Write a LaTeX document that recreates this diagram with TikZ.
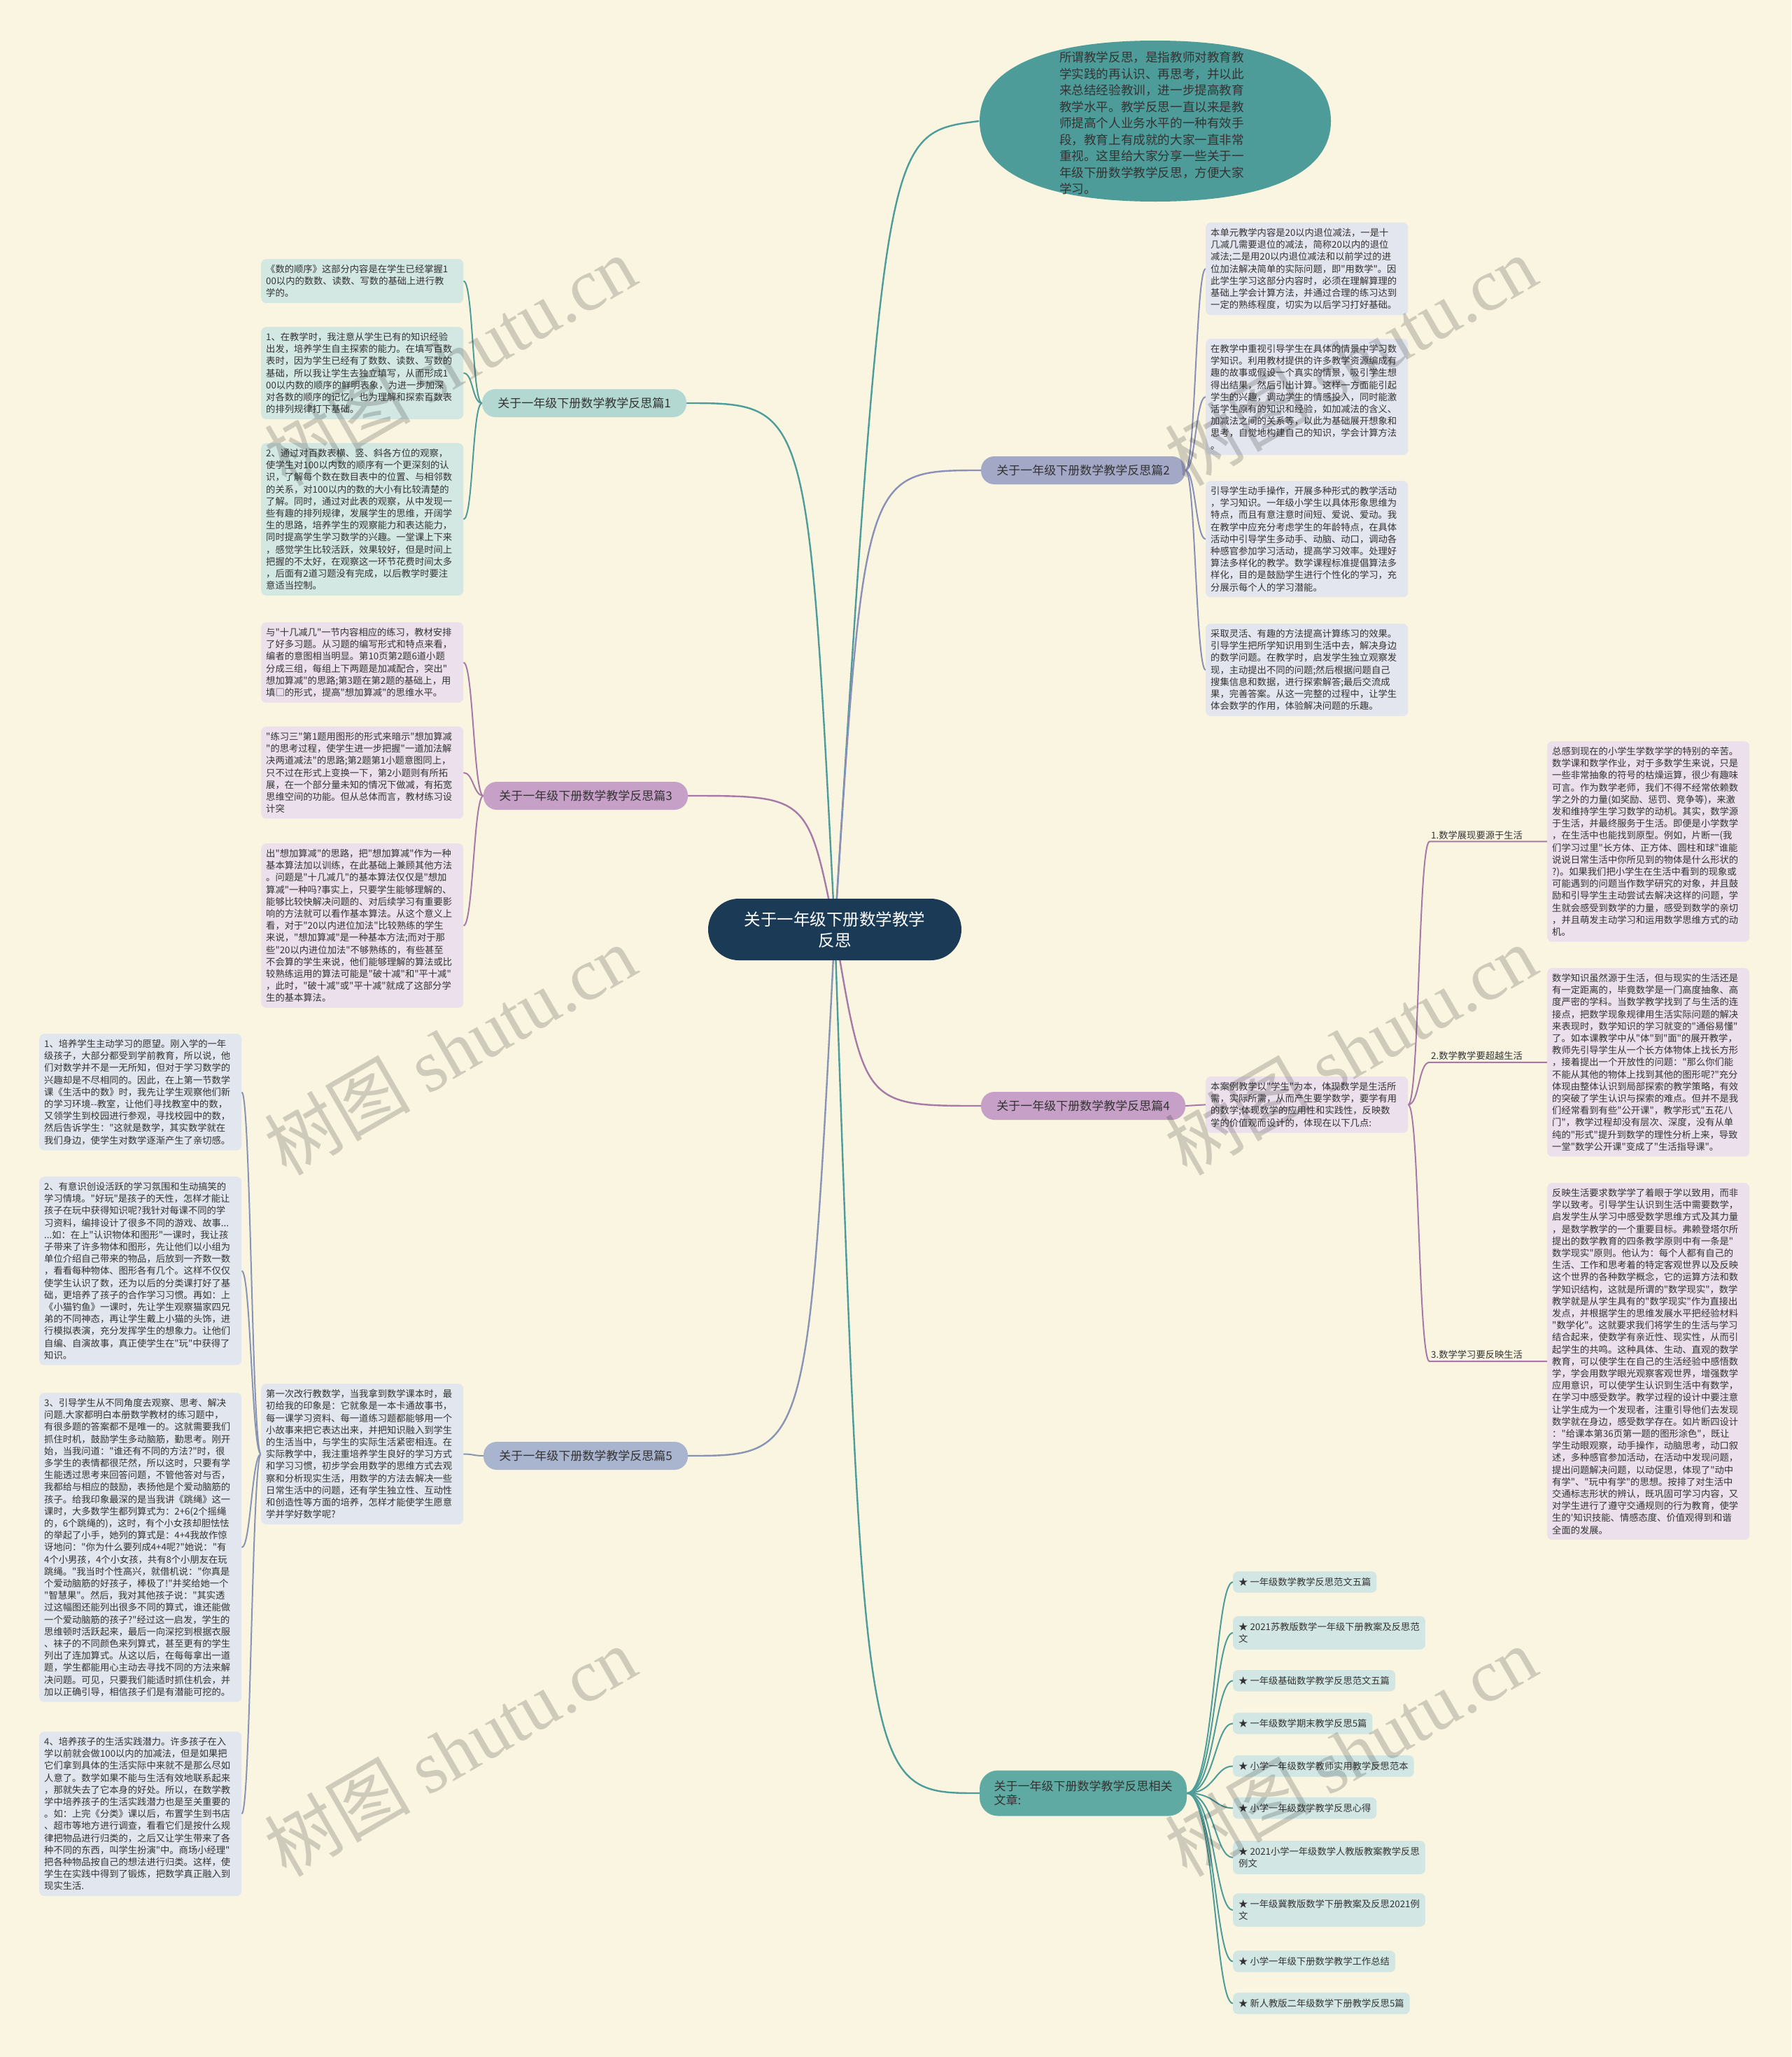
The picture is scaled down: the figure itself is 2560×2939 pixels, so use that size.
\documentclass[tikz,border=0pt]{standalone}
\usepackage{fontspec}
\setmainfont{Noto Sans CJK SC}[Ligatures=TeXOff]
\newfontfamily\wmserif{Liberation Serif}[Ligatures=TeXOff]
\usetikzlibrary{calc,shapes.geometric}
\definecolor{bgc}{HTML}{F9F5E1}
\definecolor{navy}{HTML}{1B3A55}
\definecolor{tealc}{HTML}{4E9C99}
\definecolor{txt}{HTML}{333333}
\definecolor{p1fill}{HTML}{B3D8D1}
\definecolor{p2fill}{HTML}{A3A8C7}
\definecolor{p3fill}{HTML}{C7A0C8}
\definecolor{p5fill}{HTML}{A9B4CE}
\definecolor{relfill}{HTML}{5FAAA3}
\definecolor{b1fill}{HTML}{D3E8E3}
\definecolor{b2fill}{HTML}{E3E5EF}
\definecolor{b3fill}{HTML}{EBE0EC}
\definecolor{b5fill}{HTML}{E2E6EF}
\definecolor{rfill}{HTML}{D2E7E4}
\definecolor{cc2}{HTML}{8A8FB8}
\definecolor{cc3}{HTML}{A679A7}
\definecolor{cc5}{HTML}{8794B4}
\pgfdeclarelayer{bg}
\pgfsetlayers{bg,main}
\begin{document}
\begin{tikzpicture}[x=1pt,y=-1pt,
  tbox/.style={rounded corners=7pt, inner xsep=7pt, inner ysep=8pt, text width=275pt, align=left,
    font=\fontsize{13.3}{17.2}\selectfont, text=txt, anchor=north west},
  pill/.style={rounded corners=19pt, minimum width=292pt, minimum height=40pt, inner xsep=12pt,
    font=\fontsize{17}{20}\selectfont, text=txt, anchor=center},
  ritem/.style={rounded corners=7pt, inner xsep=8pt, inner ysep=9pt, align=left,
    font=\fontsize{13.3}{17.2}\selectfont, text=txt, fill=rfill, anchor=north west},
  lbl/.style={anchor=south west, inner xsep=2pt, inner ysep=3pt, font=\fontsize{13.3}{16}\selectfont, text=txt},
  mainln/.style={line width=2.4pt},
  kid/.style={line width=2pt},
  wm/.style={rotate=30, font=\fontsize{105}{105}\selectfont, text=black, opacity=0.17}
]
\useasboundingbox (0,0) rectangle (2560,2939);
\begin{pgfonlayer}{bg}
\fill[bgc] (0,0) rectangle (2560,2939);
\end{pgfonlayer}

% center
\node[fill=navy, rounded corners=44pt, minimum width=362pt, minimum height=88pt, align=center,
  text=white, font=\fontsize{23.5}{30}\selectfont] (cen) at (1193,1328) {关于一年级下册数学教学\\反思};
\coordinate (c0) at (cen.center);

% top rounded shape
\node[ellipse, minimum width=503pt, minimum height=229pt, inner sep=0pt] (ell) at (1651,173) {};
\fill[tealc] (1400,173) .. controls (1400,99) and (1490,58) .. (1651,58)
  .. controls (1812,58) and (1902,99) .. (1902,173)
  .. controls (1902,247) and (1812,288) .. (1651,288)
  .. controls (1490,288) and (1400,247) .. (1400,173) -- cycle;
\node[align=left, text=txt, font=\fontsize{17.6}{23.5}\selectfont] (ellt) at (1646,176) {所谓教学反思，是指教师对教育教\\
学实践的再认识、再思考，并以此\\
来总结经验教训，进一步提高教育\\
教学水平。教学反思一直以来是教\\
师提高个人业务水平的一种有效手\\
段，教育上有成就的大家一直非常\\
重视。这里给大家分享一些关于一\\
年级下册数学教学反思，方便大家\\
学习。};

% branch pills
\node[pill, fill=p1fill] (p1) at (835,576) {关于一年级下册数学教学反思篇1};
\node[pill, fill=p2fill] (p2) at (1548,672) {关于一年级下册数学教学反思篇2};
\node[pill, fill=p3fill] (p3) at (837,1137) {关于一年级下册数学教学反思篇3};
\node[pill, fill=p3fill] (p4) at (1548,1580) {关于一年级下册数学教学反思篇4};
\node[pill, fill=p5fill] (p5) at (837,2080) {关于一年级下册数学教学反思篇5};
\node[pill, fill=relfill, minimum width=296pt, minimum height=65pt, rounded corners=26pt, align=left, inner xsep=14pt] (p6) at (1548,2562) {关于一年级下册数学教学反思相关\\文章:};

% branch 1 boxes
\node[tbox, fill=b1fill] (b11) at (373,370) {《数的顺序》这部分内容是在学生已经掌握1\\
00以内的数数、读数、写数的基础上进行教\\
学的。};
\node[tbox, fill=b1fill] (b12) at (373,467) {1、在教学时，我注意从学生已有的知识经验\\
出发，培养学生自主探索的能力。在填写百数\\
表时，因为学生已经有了数数、读数、写数的\\
基础，所以我让学生去独立填写，从而形成1\\
00以内数的顺序的鲜明表象，为进一步加深\\
对各数的顺序的记忆，也为理解和探索百数表\\
的排列规律打下基础。};
\node[tbox, fill=b1fill] (b13) at (373,633) {2、通过对百数表横、竖、斜各方位的观察，\\
使学生对100以内数的顺序有一个更深刻的认\\
识，了解每个数在数目表中的位置、与相邻数\\
的关系，对100以内的数的大小有比较清楚的\\
了解。同时，通过对此表的观察，从中发现一\\
些有趣的排列规律，发展学生的思维，开阔学\\
生的思路，培养学生的观察能力和表达能力，\\
同时提高学生学习数学的兴趣。一堂课上下来\\
，感觉学生比较活跃，效果较好，但是时间上\\
把握的不太好，在观察这一环节花费时间太多\\
，后面有2道习题没有完成，以后教学时要注\\
意适当控制。};

% branch 2 boxes
\node[tbox, fill=b2fill] (b21) at (1723,318) {本单元教学内容是20以内退位减法，一是十\\
几减几需要退位的减法，简称20以内的退位\\
减法;二是用20以内退位减法和以前学过的进\\
位加法解决简单的实际问题，即"用数学"。因\\
此学生学习这部分内容时，必须在理解算理的\\
基础上学会计算方法，并通过合理的练习达到\\
一定的熟练程度，切实为以后学习打好基础。};
\node[tbox, fill=b2fill] (b22) at (1723,484) {在教学中重视引导学生在具体的情景中学习数\\
学知识。利用教材提供的许多教学资源编成有\\
趣的故事或假设一个真实的情景，吸引学生想\\
得出结果，然后引出计算。这样一方面能引起\\
学生的兴趣，调动学生的情感投入，同时能激\\
活学生原有的知识和经验，如加减法的含义、\\
加减法之间的关系等，以此为基础展开想象和\\
思考，自觉地构建自己的知识，学会计算方法\\
。};
\node[tbox, fill=b2fill] (b23) at (1723,687) {引导学生动手操作，开展多种形式的教学活动\\
，学习知识。一年级小学生以具体形象思维为\\
特点，而且有意注意时间短、爱说、爱动。我\\
在教学中应充分考虑学生的年龄特点，在具体\\
活动中引导学生多动手、动脑、动口，调动各\\
种感官参加学习活动，提高学习效率。处理好\\
算法多样化的教学。数学课程标准提倡算法多\\
样化，目的是鼓励学生进行个性化的学习，充\\
分展示每个人的学习潜能。};
\node[tbox, fill=b2fill] (b24) at (1723,891) {采取灵活、有趣的方法提高计算练习的效果。\\
引导学生把所学知识用到生活中去，解决身边\\
的数学问题。在教学时，启发学生独立观察发\\
现，主动提出不同的问题;然后根据问题自己\\
搜集信息和数据，进行探索解答;最后交流成\\
果，完善答案。从这一完整的过程中，让学生\\
体会数学的作用，体验解决问题的乐趣。};

% branch 3 boxes
\node[tbox, fill=b3fill] (b31) at (373,889) {与"十几减几"一节内容相应的练习，教材安排\\
了好多习题。从习题的编写形式和特点来看，\\
编者的意图相当明显。第10页第2题6道小题\\
分成三组，每组上下两题是加减配合，突出"\\
想加算减"的思路;第3题在第2题的基础上，用\\
填□的形式，提高"想加算减"的思维水平。};
\node[tbox, fill=b3fill] (b32) at (373,1038) {"练习三"第1题用图形的形式来暗示"想加算减\\
"的思考过程，使学生进一步把握"一道加法解\\
决两道减法"的思路;第2题第1小题意图同上，\\
只不过在形式上变换一下，第2小题则有所拓\\
展，在一个部分量未知的情况下做减，有拓宽\\
思维空间的功能。但从总体而言，教材练习设\\
计突};
\node[tbox, fill=b3fill] (b33) at (373,1205) {出"想加算减"的思路，把"想加算减"作为一种\\
基本算法加以训练，在此基础上兼顾其他方法\\
。问题是"十几减几"的基本算法仅仅是"想加\\
算减"一种吗?事实上，只要学生能够理解的、\\
能够比较快解决问题的、对后续学习有重要影\\
响的方法就可以看作基本算法。从这个意义上\\
看，对于"20以内进位加法"比较熟练的学生\\
来说，"想加算减"是一种基本方法;而对于那\\
些"20以内进位加法"不够熟练的，有些甚至\\
不会算的学生来说，他们能够理解的算法或比\\
较熟练运用的算法可能是"破十减"和"平十减"\\
，此时，"破十减"或"平十减"就成了这部分学\\
生的基本算法。};

% branch 4
\node[tbox, fill=b3fill] (b40) at (1723,1538) {本案例教学以"学生"为本，体现数学是生活所\\
需，实际所需，从而产生要学数学，要学有用\\
的数学;体现数学的应用性和实践性，反映数\\
学的价值观而设计的，体现在以下几点:};
\node[tbox, fill=b3fill] (b41) at (2211,1059) {总感到现在的小学生学数学学的特别的辛苦。\\
数学课和数学作业，对于多数学生来说，只是\\
一些非常抽象的符号的枯燥运算，很少有趣味\\
可言。作为数学老师，我们不得不经常依赖数\\
学之外的力量(如奖励、惩罚、竞争等)，来激\\
发和维持学生学习数学的动机。其实，数学源\\
于生活，并最终服务于生活。即便是小学数学\\
，在生活中也能找到原型。例如，片断一(我\\
们学习过里"长方体、正方体、圆柱和球"谁能\\
说说日常生活中你所见到的物体是什么形状的\\
?)。如果我们把小学生在生活中看到的现象或\\
可能遇到的问题当作数学研究的对象，并且鼓\\
励和引导学生主动尝试去解决这样的问题，学\\
生就会感受到数学的力量，感受到数学的亲切\\
，并且萌发主动学习和运用数学思维方式的动\\
机。};
\node[tbox, fill=b3fill] (b42) at (2211,1383) {数学知识虽然源于生活，但与现实的生活还是\\
有一定距离的，毕竟数学是一门高度抽象、高\\
度严密的学科。当数学教学找到了与生活的连\\
接点，把数学现象规律用生活实际问题的解决\\
来表现时，数学知识的学习就变的"通俗易懂"\\
了。如本课教学中从"体"到"面"的展开教学，\\
教师先引导学生从一个长方体物体上找长方形\\
，接着提出一个开放性的问题："那么你们能\\
不能从其他的物体上找到其他的图形呢?"充分\\
体现由整体认识到局部探索的教学策略，有效\\
的突破了学生认识与探索的难点。但并不是我\\
们经常看到有些"公开课"，教学形式"五花八\\
门"，教学过程却没有层次、深度，没有从单\\
纯的"形式"提升到数学的理性分析上来，导致\\
一堂"数学公开课"变成了"生活指导课"。};
\node[tbox, fill=b3fill] (b43) at (2211,1690) {反映生活要求数学学了着眼于学以致用，而非\\
学以致考。引导学生认识到生活中需要数学，\\
启发学生从学习中感受数学思维方式及其力量\\
，是数学教学的一个重要目标。弗赖登塔尔所\\
提出的数学教育的四条教学原则中有一条是"\\
数学现实"原则。他认为：每个人都有自己的\\
生活、工作和思考着的特定客观世界以及反映\\
这个世界的各种数学概念，它的运算方法和数\\
学知识结构，这就是所谓的"数学现实"，数学\\
教学就是从学生具有的"数学现实"作为直接出\\
发点，并根据学生的思维发展水平把经验材料\\
"数学化"。这就要求我们将学生的生活与学习\\
结合起来，使数学有亲近性、现实性，从而引\\
起学生的共鸣。这种具体、生动、直观的数学\\
教育，可以使学生在自己的生活经验中感悟数\\
学，学会用数学眼光观察客观世界，增强数学\\
应用意识，可以使学生认识到生活中有数学，\\
在学习中感受数学。教学过程的设计中要注意\\
让学生成为一个发现者，注重引导他们去发现\\
数学就在身边，感受数学存在。如片断四设计\\
："给课本第36页第一题的图形涂色"，既让\\
学生动眼观察，动手操作，动脑思考，动口叙\\
述，多种感官参加活动，在活动中发现问题，\\
提出问题解决问题，以动促思，体现了"动中\\
有学"、"玩中有学"的思想。按排了对生活中\\
交通标志形状的辨认，既巩固可学习内容，又\\
对学生进行了遵守交通规则的行为教育，使学\\
生的'知识技能、情感态度、价值观得到和谐\\
全面的发展。};
\coordinate (u1) at ($(b41.west)+(-168,0)$);
\coordinate (u2) at ($(b42.west)+(-168,0)$);
\coordinate (u3) at ($(b43.west)+(-168,0)$);
\node[lbl] (l1) at (u1) {1.数学展现要源于生活};
\node[lbl] (l2) at (u2) {2.数学教学要超越生活};
\node[lbl] (l3) at (u3) {3.数学学习要反映生活};

% branch 5
\node[tbox, fill=b5fill] (b50) at (373,1977) {第一次改行教数学，当我拿到数学课本时，最\\
初给我的印象是：它就象是一本卡通故事书，\\
每一课学习资料、每一道练习题都能够用一个\\
小故事来把它表达出来，并把知识融入到学生\\
的生活当中，与学生的实际生活紧密相连。在\\
实际教学中，我注重培养学生良好的学习方式\\
和学习习惯，初步学会用数学的思维方式去观\\
察和分析现实生活，用数学的方法去解决一些\\
日常生活中的问题，还有学生独立性、互动性\\
和创造性等方面的培养，怎样才能使学生愿意\\
学并学好数学呢?};
\node[tbox, fill=b5fill] (b51) at (56,1477) {1、培养学生主动学习的愿望。刚入学的一年\\
级孩子，大部分都受到学前教育，所以说，他\\
们对数学并不是一无所知，但对于学习数学的\\
兴趣却是不尽相同的。因此，在上第一节数学\\
课《生活中的数》时，我先让学生观察他们新\\
的学习环境-{}-教室，让他们寻找教室中的数，\\
又领学生到校园进行参观，寻找校园中的数，\\
然后告诉学生："这就是数学，其实数学就在\\
我们身边，使学生对数学逐渐产生了亲切感。};
\node[tbox, fill=b5fill] (b52) at (56,1681) {2、有意识创设活跃的学习氛围和生动搞笑的\\
学习情境。"好玩"是孩子的天性，怎样才能让\\
孩子在玩中获得知识呢?我针对每课不同的学\\
习资料，编排设计了很多不同的游戏、故事...\\
...如：在上"认识物体和图形"一课时，我让孩\\
子带来了许多物体和图形，先让他们以小组为\\
单位介绍自己带来的物品，后放到一齐数一数\\
，看看每种物体、图形各有几个。这样不仅仅\\
使学生认识了数，还为以后的分类课打好了基\\
础，更培养了孩子的合作学习习惯。再如：上\\
《小猫钓鱼》一课时，先让学生观察猫家四兄\\
弟的不同神态，再让学生戴上小猫的头饰，进\\
行模拟表演，充分发挥学生的想象力。让他们\\
自编、自演故事，真正使学生在"玩"中获得了\\
知识。};
\node[tbox, fill=b5fill] (b53) at (56,1990) {3、引导学生从不同角度去观察、思考、解决\\
问题.大家都明白本册数学教材的练习题中，\\
有很多题的答案都不是唯一的。这就需要我们\\
抓住时机，鼓励学生多动脑筋，勤思考。刚开\\
始，当我问道："谁还有不同的方法?"时，很\\
多学生的表情都很茫然，所以这时，只要有学\\
生能透过思考来回答问题，不管他答对与否，\\
我都给与相应的鼓励，表扬他是个爱动脑筋的\\
孩子。给我印象最深的是当我讲《跳绳》这一\\
课时，大多数学生都列算式为：2+6(2个摇绳\\
的，6个跳绳的)，这时，有个小女孩却胆怯怯\\
的举起了小手，她列的算式是：4+4我故作惊\\
讶地问："你为什么要列成4+4呢?"她说："有\\
4个小男孩，4个小女孩，共有8个小朋友在玩\\
跳绳。"我当时个性高兴，就借机说："你真是\\
个爱动脑筋的好孩子，棒极了!"并奖给她一个\\
"智慧果"。然后，我对其他孩子说："其实透\\
过这幅图还能列出很多不同的算式，谁还能做\\
一个爱动脑筋的孩子?"经过这一启发，学生的\\
思维顿时活跃起来，最后一向深挖到根据衣服\\
、袜子的不同颜色来列算式，甚至更有的学生\\
列出了连加算式。从这以后，在每每拿出一道\\
题，学生都能用心主动去寻找不同的方法来解\\
决问题。可见，只要我们能适时抓住机会，并\\
加以正确引导，相信孩子们是有潜能可挖的。};
\node[tbox, fill=b5fill] (b54) at (56,2474) {4、培养孩子的生活实践潜力。许多孩子在入\\
学以前就会做100以内的加减法，但是如果把\\
它们拿到具体的生活实际中来就不是那么尽如\\
人意了。数学如果不能与生活有效地联系起来\\
，那就失去了它本身的好处。所以，在数学教\\
学中培养孩子的生活实践潜力也是至关重要的\\
。如：上完《分类》课以后，布置学生到书店\\
、超市等地方进行调查，看看它们是按什么规\\
律把物品进行归类的，之后又让学生带来了各\\
种不同的东西，叫学生扮演"中。商场小经理"\\
把各种物品按自己的想法进行归类。这样，使\\
学生在实践中得到了锻炼，把数学真正融入到\\
现实生活.};

% related items
\node[ritem] (r1) at (1762,2245) {★ 一年级数学教学反思范文五篇};
\node[ritem] (r2) at (1762,2309) {★ 2021苏教版数学一年级下册教案及反思范\\文};
\node[ritem] (r3) at (1762,2386) {★ 一年级基础数学教学反思范文五篇};
\node[ritem] (r4) at (1762,2447) {★ 一年级数学期末教学反思5篇};
\node[ritem] (r5) at (1762,2508) {★ 小学一年级数学教师实用教学反思范本};
\node[ritem] (r6) at (1762,2568) {★ 小学一年级数学教学反思心得};
\node[ritem] (r7) at (1762,2630) {★ 2021小学一年级数学人教版教案教学反思\\例文};
\node[ritem] (r8) at (1762,2705) {★ 一年级冀教版数学下册教案及反思2021例\\文};
\node[ritem] (r9) at (1762,2787) {★ 小学一年级下册数学教学工作总结};
\node[ritem] (r10) at (1762,2847) {★ 新人教版二年级数学下册教学反思5篇};

% connectors
\begin{pgfonlayer}{bg}
\draw[mainln, tealc] (c0) .. controls (1265,190) .. (ell.west);
\draw[mainln, cc2] (c0) .. controls (1235,672) .. (p2.west);
\draw[mainln, cc3] (c0) .. controls (1235,1580) .. (p4.west);
\draw[mainln, tealc] (c0) .. controls (1235,2562) .. (p6.west);
\draw[mainln, tealc] (c0) .. controls (1155,576) .. (p1.east);
\draw[mainln, cc3] (c0) .. controls (1155,1137) .. (p3.east);
\draw[mainln, cc5] (c0) .. controls (1155,2080) .. (p5.east);
\foreach \b in {b11,b12,b13}
  \draw[kid, tealc] (p1.west) .. controls +(-14,0) and +(14,0) .. (\b.east);
\foreach \b in {b21,b22,b23,b24}
  \draw[kid, cc2] (p2.east) .. controls +(14,0) and +(-14,0) .. (\b.west);
\foreach \b in {b31,b32,b33}
  \draw[kid, cc3] (p3.west) .. controls +(-14,0) and +(14,0) .. (\b.east);
\draw[kid, cc3] (p4.east) .. controls +(14,0) and +(-14,0) .. (b40.west);
\foreach \u/\b in {u1/b41,u2/b42,u3/b43}
  \draw[kid, cc3] (b40.east) .. controls +(16,0) and +(-16,0) .. (\u) -- (\b.west);
\draw[kid, cc5] (p5.west) .. controls +(-14,0) and +(14,0) .. (b50.east);
\foreach \b in {b51,b52,b53,b54}
  \draw[kid, cc5] (b50.west) .. controls +(-13,0) and +(13,0) .. (\b.east);
\foreach \b in {r1,r2,r3,r4,r5,r6,r7,r8,r9,r10}
  \draw[kid, tealc] (p6.east) .. controls +(40,0) and +(-26,0) .. (\b.west);
\end{pgfonlayer}

% watermarks
\foreach \x/\y [count=\i] in {643/515,1930/515,643/1500,1930/1500,643/2502,1930/2502}
  \node[wm] (wm\i) at (\x,\y) {树图 {\wmserif shutu.cn}};
\end{tikzpicture}
\end{document}
